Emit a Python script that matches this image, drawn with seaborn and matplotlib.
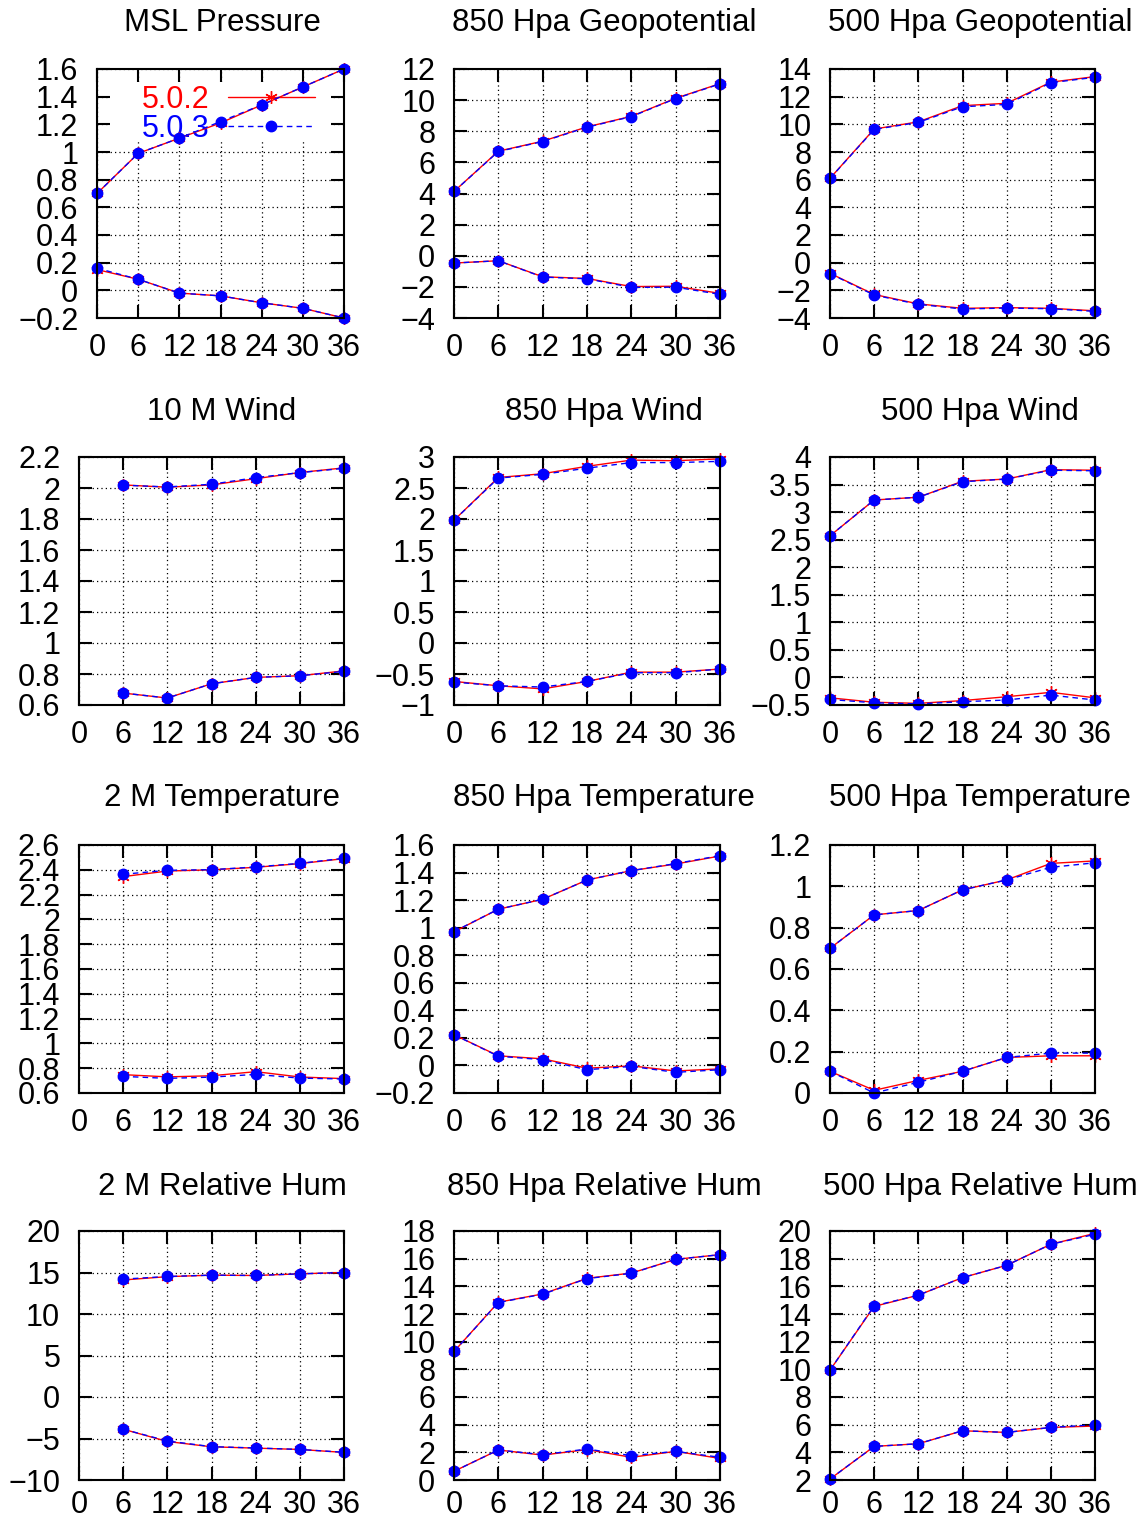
import numpy as np
import pandas as pd
import seaborn as sns
import matplotlib.pyplot as plt
from matplotlib.lines import Line2D
from matplotlib.patches import Rectangle
from matplotlib.ticker import MultipleLocator, FuncFormatter

nan = np.nan
hours = [0, 6, 12, 18, 24, 30, 36]
versions = ["5.0.2", "5.0.3"]

# upper curves (rms) and lower curves (bias), one list per version
msl_rms_502 = [0.70, 0.99, 1.10, 1.21, 1.34, 1.47, 1.60]
msl_rms_503 = [0.70, 0.99, 1.10, 1.22, 1.34, 1.47, 1.60]
msl_bias_502 = [0.15, 0.08, -0.02, -0.04, -0.09, -0.13, -0.20]
msl_bias_503 = [0.16, 0.08, -0.02, -0.04, -0.09, -0.13, -0.20]

z850_rms_502 = [4.13, 6.72, 7.36, 8.28, 8.96, 10.12, 11.06]
z850_rms_503 = [4.13, 6.70, 7.34, 8.26, 8.94, 10.10, 11.04]
z850_bias_502 = [-0.47, -0.32, -1.35, -1.46, -1.98, -1.96, -2.42]
z850_bias_503 = [-0.47, -0.32, -1.37, -1.48, -2.03, -2.02, -2.48]

z500_rms_502 = [6.10, 9.66, 10.18, 11.35, 11.52, 13.05, 13.45]
z500_rms_503 = [6.09, 9.63, 10.14, 11.27, 11.44, 13.01, 13.40]
z500_bias_502 = [-0.77, -2.30, -2.98, -3.30, -3.25, -3.30, -3.48]
z500_bias_503 = [-0.79, -2.34, -3.01, -3.35, -3.28, -3.33, -3.52]

w10_rms_502 = [nan, 2.02, 2.005, 2.02, 2.06, 2.10, 2.13]
w10_rms_503 = [nan, 2.018, 2.007, 2.024, 2.067, 2.099, 2.127]
w10_bias_502 = [nan, 0.677, 0.645, 0.737, 0.778, 0.789, 0.82]
w10_bias_503 = [nan, 0.677, 0.645, 0.737, 0.778, 0.789, 0.817]

w850_rms_502 = [1.98, 2.67, 2.73, 2.85, 2.95, 2.94, 2.97]
w850_rms_503 = [1.98, 2.66, 2.72, 2.82, 2.91, 2.91, 2.93]
w850_bias_502 = [-0.62, -0.69, -0.74, -0.62, -0.47, -0.47, -0.42]
w850_bias_503 = [-0.63, -0.69, -0.71, -0.62, -0.48, -0.48, -0.42]

w500_rms_502 = [2.57, 3.22, 3.27, 3.56, 3.60, 3.77, 3.76]
w500_rms_503 = [2.57, 3.22, 3.27, 3.55, 3.60, 3.76, 3.75]
w500_bias_502 = [-0.37, -0.45, -0.47, -0.42, -0.35, -0.27, -0.37]
w500_bias_503 = [-0.40, -0.46, -0.48, -0.44, -0.41, -0.32, -0.41]

t2_rms_502 = [nan, 2.345, 2.39, 2.40, 2.42, 2.45, 2.49]
t2_rms_503 = [nan, 2.364, 2.396, 2.401, 2.423, 2.452, 2.493]
t2_bias_502 = [nan, 0.748, 0.73, 0.739, 0.772, 0.729, 0.716]
t2_bias_503 = [nan, 0.734, 0.718, 0.728, 0.75, 0.72, 0.713]

t850_rms_502 = [0.97, 1.134, 1.206, 1.346, 1.414, 1.462, 1.52]
t850_rms_503 = [0.972, 1.134, 1.206, 1.346, 1.414, 1.465, 1.523]
t850_bias_502 = [0.223, 0.07, 0.048, -0.02, -0.003, -0.04, -0.025]
t850_bias_503 = [0.223, 0.067, 0.042, -0.031, -0.007, -0.05, -0.031]

t500_rms_502 = [0.70, 0.862, 0.883, 0.983, 1.031, 1.111, 1.123]
t500_rms_503 = [0.70, 0.862, 0.883, 0.983, 1.031, 1.092, 1.114]
t500_bias_502 = [0.105, 0.013, 0.061, 0.105, 0.172, 0.18, 0.18]
t500_bias_503 = [0.105, 0.0, 0.052, 0.105, 0.172, 0.193, 0.193]

rh2_rms_502 = [nan, 14.1, 14.5, 14.68, 14.64, 14.84, 15.0]
rh2_rms_503 = [nan, 14.2, 14.52, 14.68, 14.64, 14.84, 15.0]
rh2_bias_502 = [nan, -3.88, -5.36, -6.0, -6.16, -6.32, -6.68]
rh2_bias_503 = [nan, -3.88, -5.30, -5.98, -6.14, -6.32, -6.66]

rh850_rms_502 = [9.29, 12.85, 13.45, 14.58, 14.96, 15.95, 16.29]
rh850_rms_503 = [9.29, 12.83, 13.43, 14.56, 14.94, 15.95, 16.29]
rh850_bias_502 = [0.63, 2.17, 1.80, 2.20, 1.64, 2.07, 1.56]
rh850_bias_503 = [0.63, 2.17, 1.83, 2.24, 1.76, 2.07, 1.64]

rh500_rms_502 = [9.94, 14.55, 15.36, 16.63, 17.52, 19.04, 19.83]
rh500_rms_503 = [9.94, 14.59, 15.36, 16.63, 17.52, 19.04, 19.76]
rh500_bias_502 = [2.07, 4.43, 4.62, 5.56, 5.44, 5.80, 5.90]
rh500_bias_503 = [2.07, 4.43, 4.62, 5.56, 5.44, 5.80, 5.99]

titles = [
    "MSL Pressure", "850 Hpa Geopotential", "500 Hpa Geopotential",
    "10 M Wind", "850 Hpa Wind", "500 Hpa Wind",
    "2 M Temperature", "850 Hpa Temperature", "500 Hpa Temperature",
    "2 M Relative Hum", "850 Hpa Relative Hum", "500 Hpa Relative Hum",
]
series = [
    (msl_rms_502, msl_rms_503, msl_bias_502, msl_bias_503),
    (z850_rms_502, z850_rms_503, z850_bias_502, z850_bias_503),
    (z500_rms_502, z500_rms_503, z500_bias_502, z500_bias_503),
    (w10_rms_502, w10_rms_503, w10_bias_502, w10_bias_503),
    (w850_rms_502, w850_rms_503, w850_bias_502, w850_bias_503),
    (w500_rms_502, w500_rms_503, w500_bias_502, w500_bias_503),
    (t2_rms_502, t2_rms_503, t2_bias_502, t2_bias_503),
    (t850_rms_502, t850_rms_503, t850_bias_502, t850_bias_503),
    (t500_rms_502, t500_rms_503, t500_bias_502, t500_bias_503),
    (rh2_rms_502, rh2_rms_503, rh2_bias_502, rh2_bias_503),
    (rh850_rms_502, rh850_rms_503, rh850_bias_502, rh850_bias_503),
    (rh500_rms_502, rh500_rms_503, rh500_bias_502, rh500_bias_503),
]
ylims = [(-0.2, 1.6), (-4, 12), (-4, 14), (0.6, 2.2), (-1, 3), (-0.5, 4),
         (0.6, 2.6), (-0.2, 1.6), (0, 1.2), (-10, 20), (0, 18), (2, 20)]
ysteps = [0.2, 2, 2, 0.2, 0.5, 0.5, 0.2, 0.2, 0.2, 5, 2, 2]

colors = {"5.0.2": "red", "5.0.3": "blue"}
markers = {"5.0.2": (6, 2, 0), "5.0.3": "o"}
msizes = {"5.0.2": 9, "5.0.3": 7.5}
lstyles = {"5.0.2": "-", "5.0.3": (0, (4, 3))}

W, H = 1144, 1525
col_left = [79, 454, 830]
col_right = [344, 720, 1095]
row_top = [69, 457, 845, 1231]
row_bot = [318, 705, 1093, 1480]
title_x = [222, 604, 980]
title_y = [23, 412, 798, 1187]
xpads = [11, 11, 11, 7.5]

sns.set_style("ticks", {"axes.edgecolor": "black", "xtick.color": "black",
                        "ytick.color": "black", "text.color": "black"})
plt.rcParams["font.family"] = ["Liberation Sans", "DejaVu Sans"]
plt.rcParams["axes.linewidth"] = 1.5


def fmt(v, pos):
    v = round(v, 6)
    if v == 0:
        return "0"
    return f"{v:g}".replace("-", "\u2212")


fig = plt.figure(figsize=(W / 100, H / 100), dpi=100)

for i, title in enumerate(titles):
    r, c = divmod(i, 3)
    left = 97 if i == 0 else col_left[c]
    ax = fig.add_axes([left / W, 1 - row_bot[r] / H,
                       (col_right[c] - left) / W, (row_bot[r] - row_top[r]) / H])
    rms_a, rms_b, bias_a, bias_b = series[i]
    rows = []
    for ver, vals, stat in [("5.0.2", rms_a, "rms"), ("5.0.2", bias_a, "bias"),
                            ("5.0.3", rms_b, "rms"), ("5.0.3", bias_b, "bias")]:
        rows += [(h, v, ver, stat) for h, v in zip(hours, vals)]
    df = pd.DataFrame(rows, columns=["hour", "value", "version", "stat"]).dropna()

    for ver in versions:
        sns.lineplot(data=df[df["version"] == ver], x="hour", y="value",
                     units="stat", estimator=None, color=colors[ver],
                     marker=markers[ver], markersize=msizes[ver],
                     markeredgecolor=colors[ver], markeredgewidth=1,
                     linestyle=lstyles[ver], linewidth=1, legend=False,
                     ax=ax, zorder=2, clip_on=False)

    ax.set_xlim(0, 36)
    ax.set_ylim(*ylims[i])
    ax.xaxis.set_major_locator(MultipleLocator(6))
    ax.yaxis.set_major_locator(MultipleLocator(ysteps[i]))
    ax.yaxis.set_major_formatter(FuncFormatter(fmt))
    ax.set_axisbelow(True)
    ax.grid(True, color="black", linestyle=(0, (1, 2.5)), linewidth=0.9)
    ax.tick_params(direction="in", length=9.5, width=1.5, top=True, right=True,
                   labelsize=22)
    ax.tick_params(axis="x", pad=xpads[r])
    ax.tick_params(axis="y", pad=13.5)
    ax.set_xlabel("")
    ax.set_ylabel("")
    fig.text(title_x[c] / W, 1 - title_y[r] / H, title, fontsize=22.5,
             ha="center", va="center")

    if i == 0:
        ax.add_patch(Rectangle((0.053, 0.707), 0.894, 0.24, transform=ax.transAxes,
                               facecolor="white", edgecolor="none", zorder=1))
        handles = [Line2D([], [], color=colors[v], marker=markers[v],
                          markersize=msizes[v], markeredgewidth=1,
                          linestyle=lstyles[v], linewidth=1) for v in versions]
        leg = ax.legend(handles, versions, loc="upper left",
                        bbox_to_anchor=(0.18, 0.937), frameon=False,
                        markerfirst=False, labelcolor="linecolor",
                        handlelength=2.85, handletextpad=0.6,
                        labelspacing=-0.03, borderpad=0, borderaxespad=0,
                        fontsize=22, numpoints=1)
        leg.set_zorder(1.5)

fig.savefig("out.png", dpi=100)
